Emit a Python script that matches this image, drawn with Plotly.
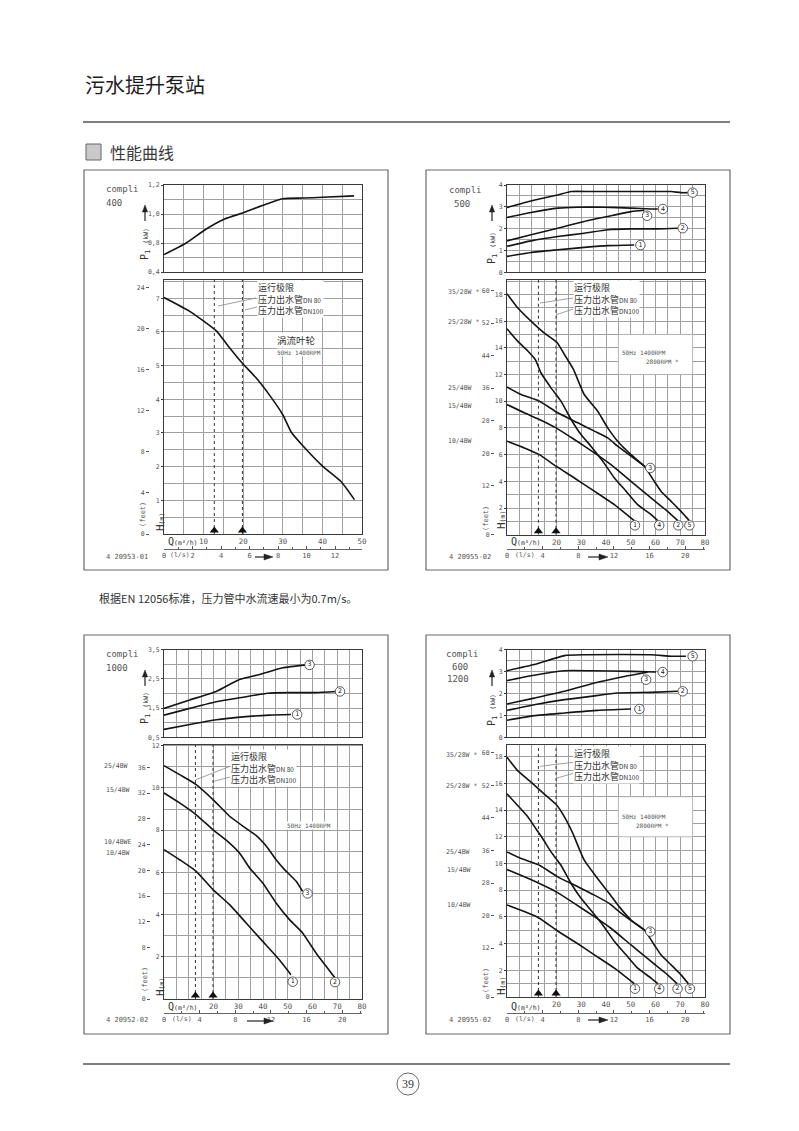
import plotly.graph_objects as go

# ------------------------------------------------------------------ data
DN80_Q = 12.7      # m3/h at 0.7 m/s in DN 80
DN100_Q = 19.8     # m3/h at 0.7 m/s in DN100
FT_PER_M = 3.2808
LS_PER_M3H = 1 / 3.6

# compli 400
C400_P_Q = [0, 5.6, 10.3, 15.3, 20.2, 25, 30, 35, 40, 48]
C400_P = [0.72, 0.80, 0.89, 0.965, 1.01, 1.06, 1.105, 1.11, 1.115, 1.125]
C400_H_Q = [0, 6.5, 13.2, 16.6, 18.7, 20.2, 23.3, 26.6, 30, 32.1, 35, 40.1, 44.7, 48.1]
C400_H = [7.02, 6.61, 6.03, 5.52, 5.22, 5.02, 4.63, 4.13, 3.54, 3.03, 2.63, 2.01, 1.56, 1.02]

# compli 500
C500_P1_Q = [0, 9.7, 20.5, 31.2, 40.7, 51.4]
C500_P1 = [0.73, 0.91, 1.03, 1.14, 1.22, 1.25]
C500_P2_Q = [0, 9.7, 20.5, 31.2, 40.7, 50.1, 60.9, 69]
C500_P2 = [1.19, 1.44, 1.64, 1.79, 1.95, 1.99, 1.99, 2.02]
C500_P3_Q = [0, 9.7, 20.5, 31.2, 40.7, 50.1, 55.5]
C500_P3 = [1.44, 1.72, 2.02, 2.33, 2.56, 2.78, 2.84]
C500_P4_Q = [0, 9.7, 20.5, 28.6, 39.3, 50.1, 58.2, 60.9]
C500_P4 = [2.51, 2.74, 2.94, 2.98, 2.98, 2.94, 2.90, 2.90]
C500_P5_Q = [0, 9.7, 20.5, 25.9, 33.9, 44.7, 58.2, 66.3, 70.3, 73.0]
C500_P5 = [2.97, 3.27, 3.54, 3.70, 3.70, 3.70, 3.70, 3.70, 3.65, 3.65]
C500_P_LBL = ["1", "2", "3", "4", "5"]
C500_P_LBL_Q = [53.9, 71.0, 56.6, 63.0, 75.0]
C500_P_LBL_P = [1.25, 2.02, 2.59, 2.90, 3.65]
C500_H1_Q = [0, 7, 13.1, 19.8, 27.2, 35.3, 43.4, 51.4]
C500_H1 = [7.0, 6.5, 6.0, 5.13, 4.25, 3.26, 2.25, 1.05]
C500_H2_Q = [0, 7, 13.1, 19.8, 27.2, 35.3, 42, 50.1, 58.2, 64.9, 69]
C500_H2 = [9.75, 9.13, 8.63, 8.0, 7.13, 6.13, 5.25, 4.0, 2.75, 1.75, 1.05]
C500_H3_Q = [0, 5.7, 13.1, 20.5, 28.6, 35.3, 40.7, 44.7, 50.1, 55.5]
C500_H3 = [11.06, 10.5, 10.0, 9.13, 8.38, 7.76, 7.25, 6.63, 5.88, 5.13]
C500_H4_Q = [0, 4.3, 8.4, 11.5, 13.7, 17.8, 21.8, 25.9, 29.9, 33.9, 38.7, 43.4, 48.1, 52.8, 58.2, 60.9]
C500_H4 = [15.43, 14.5, 13.76, 13.1, 12.13, 11.0, 10.0, 8.63, 7.5, 6.63, 5.5, 4.25, 3.26, 2.25, 1.5, 1.05]
C500_H5_Q = [0, 4.3, 9.7, 15.1, 20.2, 23.2, 26.8, 31.2, 36.6, 40.7, 44.7, 50.1, 55.5, 59.5, 62.2, 66.3, 70.3, 73.7]
C500_H5 = [18.05, 17.0, 16.0, 15.1, 14.4, 13.5, 12.4, 10.5, 9.26, 8.0, 7.0, 6.0, 5.13, 4.0, 3.26, 2.5, 1.75, 1.05]
C500_H_LBL = ["1", "2", "3", "4", "5"]
C500_H_LBL_Q = [51.7, 69.2, 57.9, 61.5, 73.7]
C500_H_LBL_H = [0.7, 0.7, 5.0, 0.7, 0.7]

# compli 1000
C1000_P1_Q = [0, 10.4, 21.1, 31.9, 42.6, 51.3]
C1000_P1 = [0.77, 0.94, 1.10, 1.20, 1.26, 1.28]
C1000_P2_Q = [0, 10.4, 21.1, 31.9, 41.9, 50.7, 61.4, 69.5]
C1000_P2 = [1.26, 1.49, 1.72, 1.87, 2.01, 2.03, 2.03, 2.07]
C1000_P3_Q = [0, 10.4, 21.1, 30.5, 38.6, 48, 57.4]
C1000_P3 = [1.49, 1.78, 2.07, 2.48, 2.65, 2.88, 2.98]
C1000_P_LBL = ["1", "2", "3"]
C1000_P_LBL_Q = [53.8, 71.1, 58.8]
C1000_P_LBL_P = [1.28, 2.07, 2.98]
C1000_H1_Q = [0, 6.3, 13.0, 19.8, 26.5, 33.2, 39.9, 46.6, 51.3]
C1000_H1 = [7.08, 6.6, 6.05, 5.18, 4.47, 3.6, 2.73, 1.86, 1.15]
C1000_H2_Q = [0, 6.3, 13.0, 20.0, 26.5, 30.5, 34.6, 39.9, 45.3, 50.7, 56.0, 61.4, 65.5, 69.1]
C1000_H2 = [9.76, 9.29, 8.73, 8.0, 7.39, 6.92, 6.21, 5.5, 4.55, 3.76, 3.13, 2.18, 1.55, 1.0]
C1000_H3_Q = [0, 6.3, 13.0, 19.8, 26.5, 33.0, 37.2, 41.9, 45.3, 48.7, 53.4, 56.0]
C1000_H3 = [11.06, 10.63, 10.16, 9.45, 8.66, 8.1, 7.75, 7.16, 6.6, 6.13, 5.58, 5.1]
C1000_H_LBL = ["1", "2", "3"]
C1000_H_LBL_Q = [52.0, 69.1, 58.0]
C1000_H_LBL_H = [0.82, 0.8, 5.0]

# compli 600 / 1200
C600_P1_Q = [0, 11, 23.2, 36.6, 50.1]
C600_P1 = [0.78, 0.99, 1.11, 1.23, 1.29]
C600_P2_Q = [0, 11, 23.2, 33.9, 44.7, 58.2, 69]
C600_P2 = [1.23, 1.49, 1.72, 1.87, 2.02, 2.05, 2.10]
C600_P3_Q = [0, 11, 23.2, 35.3, 47.4, 56.8]
C600_P3 = [1.52, 1.79, 2.10, 2.48, 2.78, 2.97]
C600_P4_Q = [0, 9.7, 23.2, 33.9, 50.1, 60.2]
C600_P4 = [2.59, 2.81, 3.04, 3.04, 3.01, 2.98]
C600_P5_Q = [0, 11, 23.2, 31.2, 58.2, 66.3, 72.3]
C600_P5 = [3.04, 3.32, 3.73, 3.77, 3.77, 3.70, 3.70]
C600_P_LBL = ["1", "2", "3", "4", "5"]
C600_P_LBL_Q = [53.5, 71.0, 56.2, 62.9, 75.0]
C600_P_LBL_P = [1.29, 2.10, 2.63, 2.98, 3.70]
C600_H1_Q = [0, 7, 13.1, 19.8, 27.2, 35.3, 43.4, 51.4]
C600_H1 = [6.89, 6.4, 5.9, 5.02, 4.16, 3.16, 2.16, 1.0]
C600_H2_Q = [0, 7, 13.1, 19.8, 27.2, 35.3, 42, 50.1, 58.2, 64.9, 68.7]
C600_H2 = [9.55, 9.0, 8.5, 7.89, 7.01, 6.02, 5.15, 3.9, 2.66, 1.66, 1.0]
C600_H3_Q = [0, 5.7, 13.1, 20.5, 28.6, 35.3, 41.3, 45.3, 50.7, 55.5]
C600_H3 = [10.87, 10.37, 9.87, 9.0, 8.26, 7.63, 7.01, 6.4, 5.65, 5.02]
C600_H4_Q = [0, 4.3, 8.4, 11.7, 14.4, 17.8, 21.8, 25.9, 29.9, 33.9, 38.7, 43.4, 48.1, 52.8, 58.2, 60.9]
C600_H4 = [15.22, 14.35, 13.5, 12.6, 11.87, 10.87, 9.87, 8.5, 7.39, 6.5, 5.4, 4.16, 3.16, 2.16, 1.42, 1.0]
C600_H5_Q = [0, 4.3, 9.7, 15.1, 20.2, 23.2, 26.5, 31.2, 36.6, 41.3, 45.3, 50.1, 55.5, 59.5, 62.2, 66.3, 70.3, 73.3]
C600_H5 = [17.96, 16.96, 16.1, 15.2, 14.35, 13.5, 12.3, 10.25, 8.88, 7.76, 6.77, 5.77, 5.02, 3.9, 3.16, 2.41, 1.66, 1.0]
C600_H_LBL = ["1", "2", "3", "4", "5"]
C600_H_LBL_Q = [51.7, 68.9, 57.9, 61.5, 73.9]
C600_H_LBL_H = [0.62, 0.62, 4.9, 0.62, 0.62]

# axis tick labels
P400_TICKS = [0.6, 0.8, 1.0, 1.2]
P400_TEXT = ["0,4", "0,8", "1,0", "1,2"]
P4KW_TICKS = [0, 1, 2, 3, 4]
P1000_TICKS = [0.5, 1.5, 2.5, 3.5]
P1000_TEXT = ["0,5", "1,5", "2,5", "3,5"]
H400_TICKS = [1, 2, 3, 4, 5, 6, 7]
H18_TICKS = [2, 4, 6, 8, 10, 12, 14, 16, 18]
H12_TICKS = [2, 4, 6, 8, 10, 12]
FT400_TICKS = [0, 4, 8, 12, 16, 20, 24]
FT60_TICKS = [0, 12, 20, 28, 36, 44, 52, 60]
FT36_TICKS = [0, 8, 12, 16, 20, 24, 28, 32, 36]
Q50_TICKS = [10, 20, 30, 40, 50]
Q80_TICKS = [20, 30, 40, 50, 60, 70, 80]
LS12_TICKS = [0, 2, 4, 6, 8, 10, 12]
LS20_TICKS = [0, 4, 8, 12, 16, 20]

# ------------------------------------------------------------------ helpers
W, H = 799, 1131
MONO = "DejaVu Sans Mono"
CJK = "Noto Sans CJK SC"
GRID = "#a0a0a0"
AXC = "#3a3a3a"
TXT = "#555555"
CURVE = "#141414"


def fx(x):
    return x / W


def fy(y):
    return 1 - y / H


def aname(k, n):
    return f"{k}axis" if n == 1 else f"{k}axis{n}"


def aref(k, n):
    return k if n == 1 else f"{k}{n}"


panels = [
    dict(geo=dict(frame=(76, 162, 380, 562), x0=156, x1=354, up=(177, 264), lo=(271.7, 526), ls=540.7, ft=141),
         qmax=50, p_range=[0.6, 1.2], p_ticks=P400_TICKS, p_text=P400_TEXT, p_minor=0.1,
         h_range=[0, 7.55], h_ticks=H400_TICKS, h_minor=0.5, ft_ticks=FT400_TICKS,
         q_ticks=Q50_TICKS, ls_ticks=LS12_TICKS, ls_minor=1,
         p_curves=[(C400_P_Q, C400_P)], h_curves=[(C400_H_Q, C400_H)],
         p_lbl=None, h_lbl=None),
    dict(geo=dict(frame=(418, 162, 722, 562), x0=499, x1=697, up=(177, 264.3), lo=(271.7, 526.7), ls=540.7, ft=486),
         qmax=80, p_range=[0, 4], p_ticks=P4KW_TICKS, p_text=[str(v) for v in P4KW_TICKS], p_minor=0.5,
         h_range=[0, 19.1], h_ticks=H18_TICKS, h_minor=1, ft_ticks=FT60_TICKS,
         q_ticks=Q80_TICKS, ls_ticks=LS20_TICKS, ls_minor=2,
         p_curves=[(C500_P1_Q, C500_P1), (C500_P2_Q, C500_P2), (C500_P3_Q, C500_P3),
                   (C500_P4_Q, C500_P4), (C500_P5_Q, C500_P5)],
         h_curves=[(C500_H1_Q, C500_H1), (C500_H2_Q, C500_H2), (C500_H3_Q, C500_H3),
                   (C500_H4_Q, C500_H4), (C500_H5_Q, C500_H5)],
         p_lbl=(C500_P_LBL_Q, C500_P_LBL_P, C500_P_LBL), h_lbl=(C500_H_LBL_Q, C500_H_LBL_H, C500_H_LBL)),
    dict(geo=dict(frame=(76, 627, 380, 1026), x0=156, x1=354, up=(641.7, 729.3), lo=(736.7, 991), ls=1005, ft=142),
         qmax=80, p_range=[0.5, 3.5], p_ticks=P1000_TICKS, p_text=P1000_TEXT, p_minor=0.5,
         h_range=[0, 12.05], h_ticks=H12_TICKS, h_minor=1, ft_ticks=FT36_TICKS,
         q_ticks=Q80_TICKS, ls_ticks=LS20_TICKS, ls_minor=2,
         p_curves=[(C1000_P1_Q, C1000_P1), (C1000_P2_Q, C1000_P2), (C1000_P3_Q, C1000_P3)],
         h_curves=[(C1000_H1_Q, C1000_H1), (C1000_H2_Q, C1000_H2), (C1000_H3_Q, C1000_H3)],
         p_lbl=(C1000_P_LBL_Q, C1000_P_LBL_P, C1000_P_LBL), h_lbl=(C1000_H_LBL_Q, C1000_H_LBL_H, C1000_H_LBL)),
    dict(geo=dict(frame=(418, 627, 722, 1026), x0=499, x1=697, up=(641.7, 729.3), lo=(736.7, 989), ls=1005, ft=486),
         qmax=80, p_range=[0, 4], p_ticks=P4KW_TICKS, p_text=[str(v) for v in P4KW_TICKS], p_minor=0.5,
         h_range=[0, 18.9], h_ticks=H18_TICKS, h_minor=1, ft_ticks=FT60_TICKS,
         q_ticks=Q80_TICKS, ls_ticks=LS20_TICKS, ls_minor=2,
         p_curves=[(C600_P1_Q, C600_P1), (C600_P2_Q, C600_P2), (C600_P3_Q, C600_P3),
                   (C600_P4_Q, C600_P4), (C600_P5_Q, C600_P5)],
         h_curves=[(C600_H1_Q, C600_H1), (C600_H2_Q, C600_H2), (C600_H3_Q, C600_H3),
                   (C600_H4_Q, C600_H4), (C600_H5_Q, C600_H5)],
         p_lbl=(C600_P_LBL_Q, C600_P_LBL_P, C600_P_LBL), h_lbl=(C600_H_LBL_Q, C600_H_LBL_H, C600_H_LBL)),
]

fig = go.Figure()
axes = {}
annotations = []
shapes = []

common_box = dict(showline=True, mirror=True, linecolor=AXC, linewidth=1, zeroline=False)
grid = dict(showgrid=True, gridcolor=GRID, gridwidth=0.6)


def ann(x, y, text, size=8, family=MONO, color=TXT, xanchor="left", yanchor="middle", angle=0, bg=None,
        align="left"):
    d = dict(x=fx(x), y=fy(y), xref="paper", yref="paper", text=text, showarrow=False,
             xanchor=xanchor, yanchor=yanchor, textangle=angle, align=align,
             font=dict(size=size, family=family, color=color), borderpad=0)
    if bg:
        d["bgcolor"] = bg
    annotations.append(d)


def pline(x0, y0, x1, y1, color="#888", width=0.8):
    shapes.append(dict(type="line", xref="paper", yref="paper", x0=fx(x0), y0=fy(y0), x1=fx(x1), y1=fy(y1),
                       line=dict(color=color, width=width)))


def tri(points, color="#222"):
    path = "M " + " L ".join(f"{fx(a):.5f},{fy(b):.5f}" for a, b in points) + " Z"
    shapes.append(dict(type="path", xref="paper", yref="paper", path=path, fillcolor=color,
                       line=dict(color=color, width=0.5)))


def up_arrow(x, y_head, length=16):
    pline(x, y_head + length, x, y_head + 5, color="#222", width=1.2)
    tri([(x, y_head), (x - 2.6, y_head + 7), (x + 2.6, y_head + 7)])


def right_arrow(x_head, y, length=20):
    pline(x_head - length, y, x_head - 6, y, color="#222", width=1.2)
    tri([(x_head, y), (x_head - 9, y - 3), (x_head - 9, y + 3)])


for i, p in enumerate(panels):
    g = p["geo"]
    b = 3 * i
    xU, xL, xS = b + 1, b + 2, b + 3
    yU, yL, yF = b + 1, b + 2, b + 3
    dom_x = [fx(g["x0"]), fx(g["x1"])]
    plot_h_px = g["lo"][1] - g["lo"][0]

    axes[aname("x", xU)] = dict(domain=dom_x, anchor=aref("y", yU), range=[0, p["qmax"]],
                                showticklabels=False, ticks="", dtick=5, tick0=0, **grid, **common_box)
    axes[aname("y", yU)] = dict(domain=[fy(g["up"][1]), fy(g["up"][0])], anchor=aref("x", xU), range=p["p_range"],
                                tickvals=p["p_ticks"], ticktext=p["p_text"], ticks="outside", ticklen=2,
                                tickcolor=AXC, tickfont=dict(size=6.5, family=MONO, color=TXT),
                                minor=dict(dtick=p["p_minor"], tick0=0, showgrid=True, gridcolor=GRID, gridwidth=0.6),
                                **grid, **common_box)
    axes[aname("x", xL)] = dict(domain=dom_x, anchor=aref("y", yL), range=[0, p["qmax"]],
                                tickvals=p["q_ticks"], ticks="", tickfont=dict(size=7.5, family=MONO, color=TXT),
                                minor=dict(dtick=5, tick0=0, showgrid=True, gridcolor=GRID, gridwidth=0.6),
                                **grid, **common_box)
    axes[aname("x", xS)] = dict(overlaying=aref("x", xL), anchor="free", position=fy(g["ls"]), side="bottom",
                                range=[0, p["qmax"] * LS_PER_M3H], tickvals=p["ls_ticks"], ticks="inside",
                                ticklen=3, tickcolor="#555",
                                minor=dict(dtick=p["ls_minor"], tick0=0, ticks="inside", ticklen=2, tickcolor="#555"),
                                showline=True, linecolor="#666", linewidth=0.8, showgrid=False, zeroline=False,
                                tickfont=dict(size=7, family=MONO, color=TXT))
    axes[aname("y", yL)] = dict(domain=[fy(g["lo"][1]), fy(g["lo"][0])], anchor=aref("x", xL), range=p["h_range"],
                                tickvals=p["h_ticks"], ticks="outside", ticklen=2, tickcolor=AXC,
                                tickfont=dict(size=6.5, family=MONO, color=TXT),
                                minor=dict(dtick=p["h_minor"], tick0=0, showgrid=True, gridcolor=GRID, gridwidth=0.6),
                                **grid, **common_box)
    axes[aname("y", yF)] = dict(overlaying=aref("y", yL), anchor="free", position=fx(g["ft"]), side="left",
                                range=[0, p["h_range"][1] * FT_PER_M], tickvals=p["ft_ticks"], ticks="outside",
                                ticklen=3, tickcolor="#555", showline=False, showgrid=False, zeroline=False,
                                tickfont=dict(size=6.5, family=MONO, color=TXT))

    xu, yu, xl, yl = aref("x", xU), aref("y", yU), aref("x", xL), aref("y", yL)
    for q, v in p["p_curves"]:
        fig.add_trace(go.Scatter(x=q, y=v, xaxis=xu, yaxis=yu, mode="lines",
                                 line=dict(color=CURVE, width=1.6, shape="spline", smoothing=0.5),
                                 hoverinfo="skip", showlegend=False))
    for q, v in p["h_curves"]:
        fig.add_trace(go.Scatter(x=q, y=v, xaxis=xl, yaxis=yl, mode="lines",
                                 line=dict(color=CURVE, width=1.6, shape="spline", smoothing=0.5),
                                 hoverinfo="skip", showlegend=False))
    # DN80 / DN100 minimum flow markers
    for qv in (DN80_Q, DN100_Q):
        fig.add_trace(go.Scatter(x=[qv, qv], y=[0, p["h_range"][1]], xaxis=xl, yaxis=yl, mode="lines",
                                 line=dict(color="#333", width=1, dash="dot"), hoverinfo="skip", showlegend=False))
    tri_y = 3.5 * p["h_range"][1] / plot_h_px
    fig.add_trace(go.Scatter(x=[DN80_Q, DN100_Q], y=[tri_y, tri_y], xaxis=xl, yaxis=yl, mode="markers",
                             marker=dict(symbol="triangle-up", size=8, color="#111"), cliponaxis=False,
                             hoverinfo="skip", showlegend=False))
    for lbl, xa, ya in ((p["p_lbl"], xu, yu), (p["h_lbl"], xl, yl)):
        if lbl is None:
            continue
        fig.add_trace(go.Scatter(x=lbl[0], y=lbl[1], text=lbl[2], xaxis=xa, yaxis=ya, mode="markers+text",
                                 marker=dict(symbol="circle", size=9.5, color="white", line=dict(color="#333", width=0.8)),
                                 textposition="middle center", textfont=dict(size=6.5, family=MONO, color="#222"),
                                 cliponaxis=False, hoverinfo="skip", showlegend=False))
    # carriers for the secondary scales (l/s and feet)
    fig.add_trace(go.Scatter(x=[0], y=[0], xaxis=aref("x", xS), yaxis=yl, mode="markers",
                             marker=dict(opacity=0), hoverinfo="skip", showlegend=False))
    fig.add_trace(go.Scatter(x=[0], y=[0], xaxis=xl, yaxis=aref("y", yF), mode="markers",
                             marker=dict(opacity=0), hoverinfo="skip", showlegend=False))

    # frame
    f = g["frame"]
    shapes.append(dict(type="rect", xref="paper", yref="paper", x0=fx(f[0]), y0=fy(f[3]), x1=fx(f[2]), y1=fy(f[1]),
                       line=dict(color="#6a6a6a", width=1.2)))

# ------------------------------------------------------------------ page texts
ann(76, 76, "污水提升泵站", size=20, family=CJK, color="#1e1e1e")
pline(75, 114, 722, 114, color="#555", width=1.5)
shapes.append(dict(type="rect", xref="paper", yref="paper", x0=fx(78), y0=fy(152), x1=fx(93), y1=fy(136),
                   fillcolor="#c9c9c9", line=dict(color="#666", width=1)))
ann(101, 144, "性能曲线", size=16, family=CJK, color="#3a3a3a")
ann(90, 590, "根据EN 12056标准，压力管中水流速最小为0.7m/s。", size=11, family=CJK, color="#333")
pline(75, 1056, 722, 1056, color="#555", width=1.5)
shapes.append(dict(type="circle", xref="paper", yref="paper", x0=fx(389), y0=fy(1087), x1=fx(411), y1=fy(1065),
                   line=dict(color="#444", width=0.8)))
ann(400, 1076, "39", size=12, family="Liberation Serif", color="#333", xanchor="center")

SMALL = "font-size:6.5px"
PLBL = f"P<sub>1</sub> <span style='{SMALL}'>(kW)</span>"
HLBL = f"H<span style='{SMALL}'>(m)</span>"
QLBL = f"Q<span style='{SMALL}'>(m³/h)</span>"
LIM = ("运行极限<br>压力出水管<span style='font-size:6.5px'>DN 80</span><br>"
       "压力出水管<span style='font-size:6.5px'>DN100</span>")

# panel 1 : compli 400
ann(97, 181, "compli", size=9)
ann(97, 195, "400", size=9)
ann(137, 236, PLBL, size=10, angle=-90, xanchor="center", color="#333")
up_arrow(137, 197)
ann(249, 272, LIM, size=9, family=CJK, color="#333", bg="white", yanchor="top")
pline(210, 298, 248, 290)
pline(237, 302, 249, 299)
ann(268, 332.5, "涡流叶轮", size=9.5, family=CJK, color="#333", bg="white")
ann(268, 344.5, "50Hz 1400RPM", size=6, bg="white")
ann(135, 507, "(feet)", size=7, angle=-90, xanchor="center")
ann(152, 514, HLBL, size=11, angle=-90, xanchor="center", color="#333")
ann(159, 533, QLBL, size=10, color="#333")
ann(161, 547, "(l/s)", size=6.5)
ann(97, 549, "4 20953-01", size=7)
right_arrow(265, 549, 18)

# panel 2 : compli 500
ann(440, 182, "compli", size=9)
ann(445, 196, "500", size=9)
ann(484, 240, PLBL, size=10, angle=-90, xanchor="center", color="#333")
up_arrow(484, 197)
ann(565, 272.5, LIM, size=9, family=CJK, color="#333", bg="white", yanchor="top")
pline(532, 295, 565, 290)
pline(549, 306.5, 565, 301)
shapes.append(dict(type="rect", xref="x5", yref="y5", x0=45, x1=75, y0=12, y1=15, fillcolor="white",
                   line=dict(color=GRID, width=0.6), layer="above"))
ann(613, 344.5, "50Hz 1400RPM", size=6)
ann(637, 353, "2800RPM *", size=6)
for t, yy in (("35/28W *", 284), ("25/28W *", 314), ("25/4BW", 380), ("15/4BW", 398), ("10/4BW", 433)):
    ann(439, yy, t, size=6.5)
ann(478, 510, "(feet)", size=7, angle=-90, xanchor="center")
ann(493, 512, HLBL, size=11, angle=-90, xanchor="center", color="#333")
ann(502, 533, QLBL, size=10, color="#333")
ann(506, 547, "(l/s)", size=6.5)
ann(440, 549, "4 20955-02", size=7)
right_arrow(600, 549, 20)

# panel 3 : compli 1000
ann(97, 646, "compli", size=9)
ann(97, 660, "1000", size=9)
ann(137, 700, PLBL, size=10, angle=-90, xanchor="center", color="#333")
up_arrow(137, 662)
ann(222, 740.5, LIM, size=9, family=CJK, color="#333", bg="white", yanchor="top")
pline(188, 771.7, 222, 758.3)
pline(205.7, 773.3, 222, 769)
ann(278, 817, "50Hz 1400RPM", size=6, bg="white")
for t, xx, yy in (("25/4BW", 95, 758), ("15/4BW", 97, 782), ("10/4BWE", 95, 834), ("10/4BW", 97, 845)):
    ann(xx, yy, t, size=6.5)
ann(137, 972, "(feet)", size=7, angle=-90, xanchor="center")
ann(152, 979, HLBL, size=11, angle=-90, xanchor="center", color="#333")
ann(159, 998, QLBL, size=10, color="#333")
ann(163, 1011, "(l/s)", size=6.5)
ann(97, 1012, "4 20952-02", size=7)
right_arrow(265, 1013, 26)

# panel 4 : compli 600 / 1200
ann(437, 646, "compli", size=9)
ann(443, 658.5, "600", size=9)
ann(438, 671, "1200", size=9)
ann(484, 702, PLBL, size=10, angle=-90, xanchor="center", color="#333")
up_arrow(484, 662)
ann(565, 737.5, LIM, size=9, family=CJK, color="#333", bg="white", yanchor="top")
pline(532, 758.3, 565, 754.3)
pline(549, 770, 565, 765.5)
shapes.append(dict(type="rect", xref="x11", yref="y11", x0=45, x1=75, y0=12, y1=15, fillcolor="white",
                   line=dict(color=GRID, width=0.6), layer="above"))
ann(613, 808.5, "50Hz 1400RPM", size=6)
ann(627, 817, "2800RPM *", size=6)
for t, xx, yy in (("35/28W *", 437, 747), ("25/28W *", 437, 778), ("25/4BW", 437, 844),
                  ("15/4BW", 438, 862), ("10/4BW", 438, 897)):
    ann(xx, yy, t, size=6.5)
ann(478, 972, "(feet)", size=7, angle=-90, xanchor="center")
ann(493, 978, HLBL, size=11, angle=-90, xanchor="center", color="#333")
ann(502, 998, QLBL, size=10, color="#333")
ann(506, 1011, "(l/s)", size=6.5)
ann(440, 1012, "4 20955-02", size=7)
right_arrow(600, 1012, 20)

fig.update_layout(width=W, height=H, margin=dict(l=0, r=0, t=0, b=0), paper_bgcolor="white",
                  plot_bgcolor="white", showlegend=False, template="none",
                  font=dict(family=MONO, size=8, color=TXT),
                  annotations=annotations, shapes=shapes, **axes)
fig.write_html("out.html")
